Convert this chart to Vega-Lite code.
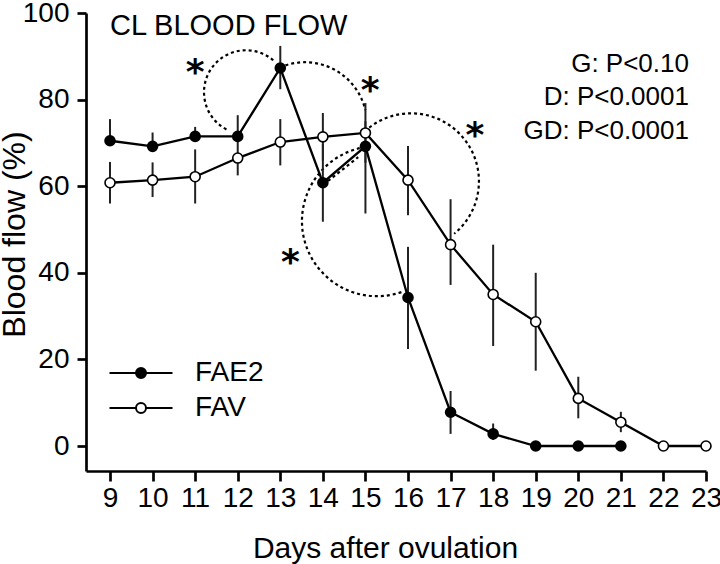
{
  "$schema": "https://vega.github.io/schema/vega-lite/v6.json",
  "width": 620,
  "height": 458,
  "autosize": {"type": "none"},
  "padding": {"left": 86, "top": 13, "right": 14, "bottom": 93},
  "background": "white",
  "config": {
    "view": {"stroke": null},
    "font": "Liberation Sans",
    "axis": {
      "domainColor": "black", "domainWidth": 2.7, "tickColor": "black", "tickWidth": 2.7,
      "labelFont": "Liberation Sans", "labelFontSize": 28, "labelColor": "black",
      "titleFont": "Liberation Sans", "titleFontWeight": "normal", "titleColor": "black",
      "grid": false
    }
  },
  "datasets": {
    "main": [
      {"series": "FAE2", "day": 9, "value": 70.5, "lo": 70.5, "hi": 75.5},
      {"series": "FAE2", "day": 10, "value": 69.2, "lo": 69.2, "hi": 72.4},
      {"series": "FAE2", "day": 11, "value": 71.5, "lo": 71.5, "hi": 73.7},
      {"series": "FAE2", "day": 12, "value": 71.5, "lo": 71.5, "hi": 76.4},
      {"series": "FAE2", "day": 13, "value": 87.3, "lo": 82.4, "hi": 92.4},
      {"series": "FAE2", "day": 14, "value": 60.8, "lo": 51.8, "hi": 69.8},
      {"series": "FAE2", "day": 15, "value": 69.2, "lo": 53.7, "hi": 75.0},
      {"series": "FAE2", "day": 16, "value": 34.3, "lo": 22.4, "hi": 46.0},
      {"series": "FAE2", "day": 17, "value": 7.8, "lo": 2.8, "hi": 12.7},
      {"series": "FAE2", "day": 18, "value": 2.8, "lo": 1.4, "hi": 5.2},
      {"series": "FAE2", "day": 19, "value": 0, "lo": 0, "hi": 0},
      {"series": "FAE2", "day": 20, "value": 0, "lo": 0, "hi": 0},
      {"series": "FAE2", "day": 21, "value": 0, "lo": 0, "hi": 0},
      {"series": "FAV", "day": 9, "value": 60.8, "lo": 56.0, "hi": 65.6},
      {"series": "FAV", "day": 10, "value": 61.4, "lo": 57.5, "hi": 65.5},
      {"series": "FAV", "day": 11, "value": 62.2, "lo": 56.0, "hi": 68.5},
      {"series": "FAV", "day": 12, "value": 66.5, "lo": 62.5, "hi": 70.4},
      {"series": "FAV", "day": 13, "value": 70.2, "lo": 64.8, "hi": 75.5},
      {"series": "FAV", "day": 14, "value": 71.4, "lo": 65.9, "hi": 76.9},
      {"series": "FAV", "day": 15, "value": 72.3, "lo": 65.4, "hi": 79.2},
      {"series": "FAV", "day": 16, "value": 61.4, "lo": 53.3, "hi": 69.3},
      {"series": "FAV", "day": 17, "value": 46.5, "lo": 37.2, "hi": 57.0},
      {"series": "FAV", "day": 18, "value": 35.0, "lo": 23.1, "hi": 46.5},
      {"series": "FAV", "day": 19, "value": 28.7, "lo": 17.4, "hi": 40.0},
      {"series": "FAV", "day": 20, "value": 11.0, "lo": 6.4, "hi": 16.0},
      {"series": "FAV", "day": 21, "value": 5.5, "lo": 3.2, "hi": 7.9},
      {"series": "FAV", "day": 22, "value": 0, "lo": 0, "hi": 0},
      {"series": "FAV", "day": 23, "value": 0, "lo": 0, "hi": 0}
    ],
    "stars": [
      {"day": 11.0, "value": 83.6, "label": "*"},
      {"day": 15.11, "value": 79.4, "label": "*"},
      {"day": 17.57, "value": 69.0, "label": "*"},
      {"day": 13.24, "value": 39.8, "label": "*"}
    ],
    "pvals": [
      {"day": 22.6, "value": 86.3, "label": "G: P<0.10"},
      {"day": 22.6, "value": 78.7, "label": "D: P<0.0001"},
      {"day": 22.6, "value": 70.85, "label": "GD: P<0.0001"}
    ],
    "heading": [{"day": 9, "value": 94.9, "label": "CL BLOOD FLOW"}],
    "arcA": [{"day": 12.195, "value": 81.7}],
    "arcB": [{"day": 13.581, "value": 74.31}],
    "arcC": [{"day": 16.071, "value": 61.16}],
    "arcD": [{"day": 15.272, "value": 51.93}],
    "seg": [{"day": 14.12, "value": 61.2, "day2": 14.83, "value2": 66.7}]
  },
  "encoding": {
    "x": {
      "field": "day", "type": "quantitative",
      "scale": {"domain": [8.436, 23], "nice": false, "zero": false},
      "axis": {
        "values": [9, 10, 11, 12, 13, 14, 15, 16, 17, 18, 19, 20, 21, 22, 23],
        "tickSize": 10, "labelPadding": 3, "labelOverlap": false, "labelFlush": false,
        "title": "Days after ovulation", "titleFontSize": 30,
        "titleX": 299, "titleY": 86, "titleBaseline": "alphabetic", "titleAlign": "center"
      }
    },
    "y": {
      "field": "value", "type": "quantitative",
      "scale": {"domain": [-5.77, 100], "nice": false, "zero": false},
      "axis": {
        "values": [0, 20, 40, 60, 80, 100],
        "tickSize": 9, "labelPadding": 8,
        "title": "Blood flow (%)", "titleFontSize": 32,
        "titleX": -62, "titleY": 221, "titleBaseline": "alphabetic", "titleAlign": "center", "titleAngle": 270
      }
    }
  },
  "layer": [
    {
      "data": {"name": "arcA"},
      "mark": {"type": "point", "shape": "M -0.466 0.885 A 1 1 0 1 1 0.682 -0.731", "size": 7056, "filled": false, "stroke": "black", "strokeWidth": 2.2, "strokeDash": [3, 3], "opacity": 1}
    },
    {
      "data": {"name": "arcB"},
      "mark": {"type": "point", "shape": "M -0.407 -0.914 A 1 1 0 0 1 0.974 -0.225", "size": 15376, "filled": false, "stroke": "black", "strokeWidth": 2.2, "strokeDash": [3, 3], "opacity": 1}
    },
    {
      "data": {"name": "arcC"},
      "mark": {"type": "point", "shape": "M -0.682 -0.731 A 1 1 0 1 1 0.635 0.773", "size": 18496, "filled": false, "stroke": "black", "strokeWidth": 2.2, "strokeDash": [3, 3], "opacity": 1}
    },
    {
      "data": {"name": "arcD"},
      "mark": {"type": "point", "shape": "M -0.151 -0.988 A 1 1 0 1 0 0.345 0.939", "size": 22500, "filled": false, "stroke": "black", "strokeWidth": 2.2, "strokeDash": [3, 3], "opacity": 1}
    },
    {
      "data": {"name": "seg"},
      "mark": {"type": "rule", "stroke": "black", "strokeWidth": 2.2, "strokeDash": [3, 3]},
      "encoding": {
        "x2": {"field": "day2"},
        "y2": {"field": "value2"}
      }
    },
    {
      "data": {"name": "main"},
      "mark": {"type": "rule", "stroke": "#222", "strokeWidth": 2},
      "encoding": {
        "y": {
          "field": "lo", "type": "quantitative",
          "scale": {"domain": [-5.77, 100], "nice": false, "zero": false},
          "axis": {
            "values": [0, 20, 40, 60, 80, 100],
            "tickSize": 9, "labelPadding": 8,
            "title": "Blood flow (%)", "titleFontSize": 32,
            "titleX": -62, "titleY": 221, "titleBaseline": "alphabetic", "titleAlign": "center", "titleAngle": 270
          }
        },
        "y2": {"field": "hi"}
      }
    },
    {
      "data": {"name": "main"},
      "mark": {"type": "line", "stroke": "black", "strokeWidth": 2.3},
      "encoding": {
        "detail": {"field": "series", "type": "nominal"},
        "order": {"field": "day", "type": "quantitative"}
      }
    },
    {
      "data": {"name": "main"},
      "mark": {"type": "point", "shape": "circle", "filled": true, "stroke": "black", "strokeWidth": 1.6, "size": 100, "opacity": 1},
      "encoding": {
        "fill": {
          "field": "series", "type": "nominal",
          "scale": {"domain": ["FAE2", "FAV"], "range": ["black", "white"]},
          "legend": {
            "orient": "none", "legendX": 41, "legendY": 346, "title": null, "padding": 0,
            "symbolType": "M -3.15 0 L -0.55 0 M 0.55 0 L 3.15 0 M 0.5 0 A 0.5 0.5 0 1 1 -0.5 0 A 0.5 0.5 0 1 1 0.5 0 Z",
            "symbolSize": 400, "symbolStrokeWidth": 2, "symbolStrokeColor": "black", "symbolOpacity": 1,
            "labelFont": "Liberation Sans", "labelFontSize": 28, "labelColor": "black", "labelOffset": 40, "rowPadding": 7
          }
        }
      }
    },
    {
      "data": {"name": "stars"},
      "mark": {"type": "text", "font": "DejaVu Sans", "fontSize": 36, "fontWeight": "bold", "align": "center", "baseline": "alphabetic", "color": "black"},
      "encoding": {"text": {"field": "label"}}
    },
    {
      "data": {"name": "pvals"},
      "mark": {"type": "text", "font": "Liberation Sans", "fontSize": 26, "align": "right", "baseline": "alphabetic", "color": "black"},
      "encoding": {"text": {"field": "label"}}
    },
    {
      "data": {"name": "heading"},
      "mark": {"type": "text", "font": "Liberation Sans", "fontSize": 29, "align": "left", "baseline": "alphabetic", "color": "black"},
      "encoding": {"text": {"field": "label"}}
    }
  ]
}
